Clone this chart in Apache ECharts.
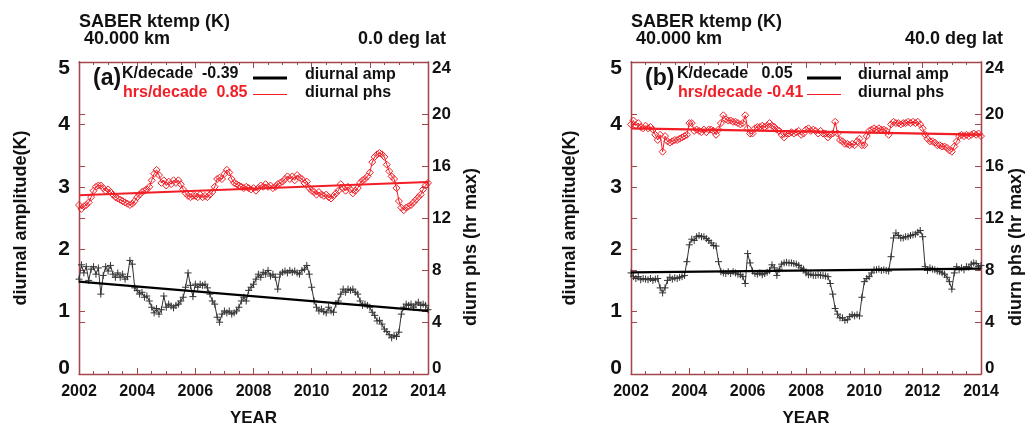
<!DOCTYPE html>
<html>
<head>
<meta charset="utf-8">
<title>SABER ktemp diurnal tide trends</title>
<script src="https://cdn.jsdelivr.net/npm/echarts@6/dist/echarts.min.js"></script>
<style>
  html, body { margin: 0; padding: 0; background: #fff; }
  #chart { width: 1028px; height: 425px; }
</style>
</head>
<body>
<div id="chart"></div>
<script>
// Monthly series, first value at START_YEAR, one value per month up to END_YEAR
const START_YEAR = 2002;
const END_YEAR = 2014;
const PER_YEAR = 12;

// axis tick labels
const yearTicks = [2002, 2004, 2006, 2008, 2010, 2012, 2014];
const ampTicks = [0, 1, 2, 3, 4, 5];
const phsTicks = [0, 4, 8, 12, 16, 20, 24];

// (a) 40 km, 0.0 deg lat : diurnal amplitude (K)
const ampA = [
  1.52, 1.75, 1.62, 1.72, 1.50, 1.68, 1.72, 1.60, 1.70, 1.28, 1.58, 1.72,
  1.65, 1.74, 1.60, 1.55, 1.62, 1.55, 1.60, 1.52, 1.56, 1.82, 1.76, 1.38,
  1.34, 1.28, 1.31, 1.23, 1.25, 1.17, 1.07, 0.98, 1.05, 0.96, 1.03, 1.25,
  1.07, 1.12, 1.09, 1.06, 1.10, 1.12, 1.17, 1.23, 1.39, 1.62, 1.42, 1.24,
  1.44, 1.39, 1.44, 1.42, 1.44, 1.38, 1.28, 1.17, 1.12, 0.91, 0.83, 0.96,
  1.01, 0.98, 1.01, 0.96, 0.98, 1.01, 1.07, 1.17, 1.23, 1.17, 1.34, 1.39,
  1.44, 1.52, 1.60, 1.55, 1.63, 1.60, 1.66, 1.57, 1.60, 1.55, 1.36, 1.60,
  1.63, 1.65, 1.62, 1.66, 1.63, 1.65, 1.62, 1.60, 1.66, 1.68, 1.74, 1.60,
  1.39, 1.17, 1.07, 1.01, 1.04, 1.00, 0.98, 1.07, 1.01, 0.99, 1.12, 1.17,
  1.28, 1.36, 1.31, 1.36, 1.34, 1.36, 1.31, 1.28, 1.17, 1.10, 1.12, 1.10,
  1.07, 0.99, 0.94, 0.85, 0.86, 0.80, 0.72, 0.68, 0.63, 0.58, 0.62, 0.60,
  0.67, 0.96, 1.07, 1.12, 1.10, 1.12, 1.07, 1.12, 1.15, 1.10, 1.12, 1.10,
  1.03
];
// (a) diurnal phase (hour of maximum)
const phsA = [
  13.0, 12.7, 12.9, 13.0, 13.2, 13.6, 14.1, 14.4, 14.5, 14.5, 14.3, 14.1,
  14.2, 14.0, 13.8, 13.6, 13.5, 13.4, 13.3, 13.2, 13.1, 13.0, 13.1, 13.3,
  13.6, 13.8, 14.0, 14.1, 14.2, 14.4, 14.9, 15.4, 15.7, 15.3, 14.7, 14.9,
  14.5, 14.8, 14.6, 14.9, 14.7, 14.9, 14.6, 14.2, 13.9, 13.7, 13.6, 13.7,
  13.7, 13.6, 13.8, 13.6, 13.7, 13.6, 13.8, 14.0, 14.4, 15.0, 15.1, 15.0,
  15.4, 15.7, 15.5, 15.0, 14.7, 14.6, 14.5, 14.4, 14.3, 14.4, 14.3, 14.2,
  14.3, 14.1, 14.3, 14.5, 14.4, 14.6, 14.4, 14.5, 14.3, 14.4, 14.6, 14.7,
  14.8, 15.0, 15.2, 15.0, 15.2, 14.9, 15.3, 15.1, 15.0, 14.7, 14.8, 14.3,
  14.1, 14.0, 13.8, 14.0, 13.8, 13.7, 13.8, 13.6, 13.5, 13.7, 13.9, 14.1,
  14.6, 14.3, 14.1, 14.4, 14.2, 13.9, 14.1, 14.3, 14.7, 14.9, 15.0, 15.2,
  15.5, 16.3, 16.7, 16.9, 17.0, 16.9, 16.7, 16.1, 15.6, 15.2, 15.0, 14.3,
  13.3, 12.8, 12.6, 12.8, 12.9, 13.0, 13.2, 13.4, 13.6, 13.8, 14.2, 14.5,
  14.7
];

// (b) 40 km, 40.0 deg lat : diurnal amplitude (K)
const ampB = [
  1.62, 1.56, 1.53, 1.56, 1.51, 1.53, 1.52, 1.51, 1.53, 1.50, 1.52, 1.53,
  1.38, 1.30, 1.38, 1.50, 1.55, 1.52, 1.54, 1.53, 1.55, 1.56, 1.58, 1.80,
  2.07, 2.16, 2.14, 2.20, 2.22, 2.20, 2.20, 2.17, 2.14, 2.10, 2.06, 2.05,
  1.80, 1.64, 1.62, 1.61, 1.64, 1.61, 1.64, 1.62, 1.60, 1.59, 1.56, 1.45,
  1.93, 1.78, 1.65, 1.61, 1.60, 1.62, 1.59, 1.61, 1.63, 1.66, 1.75, 1.70,
  1.58, 1.68, 1.76, 1.78, 1.79, 1.78, 1.78, 1.77, 1.76, 1.74, 1.70, 1.68,
  1.62, 1.59, 1.60, 1.58, 1.58, 1.59, 1.58, 1.58, 1.57, 1.56, 1.45, 1.28,
  1.05, 0.96, 0.90, 0.90, 0.86, 0.87, 0.92, 0.95, 0.93, 0.95, 0.93, 1.23,
  1.48, 1.53, 1.56, 1.62, 1.67, 1.67, 1.68, 1.66, 1.67, 1.66, 1.65, 1.88,
  2.18, 2.26, 2.22, 2.18, 2.18, 2.20, 2.20, 2.22, 2.23, 2.24, 2.27, 2.30,
  2.20, 1.72, 1.66, 1.70, 1.68, 1.67, 1.65, 1.64, 1.62, 1.60, 1.55, 1.48,
  1.36, 1.62, 1.72, 1.67, 1.70, 1.67, 1.72, 1.71, 1.76, 1.78, 1.77, 1.72,
  1.74
];
// (b) diurnal phase (hour of maximum)
const phsB = [
  19.2, 19.5, 19.1, 19.3, 19.0, 18.9, 19.1, 18.9, 19.0, 18.8, 18.4, 18.0,
  18.4, 17.1, 18.3, 17.9, 17.8, 17.9, 18.0, 18.0, 18.1, 18.2, 18.3, 18.4,
  19.3, 19.3, 18.7, 18.8, 18.7, 18.6, 18.8, 18.6, 18.8, 18.8, 18.7, 18.4,
  18.8, 19.3, 19.9, 19.6, 19.5, 19.5, 19.4, 19.4, 19.3, 19.2, 19.3, 19.9,
  18.9, 18.5, 18.5, 18.9, 19.0, 19.0, 19.1, 19.0, 19.1, 19.3, 19.1, 19.0,
  18.8, 18.7, 18.4, 18.2, 18.5, 18.5, 18.6, 18.5, 18.6, 18.7, 18.4, 18.5,
  18.8, 18.9, 18.7, 18.8, 18.7, 18.5, 18.7, 18.5, 18.5, 18.2, 18.4, 18.5,
  19.4, 18.5, 18.0, 17.9, 17.7, 17.7, 17.6, 17.7, 17.6, 17.9, 18.1, 17.6,
  17.6, 18.3, 18.7, 18.8, 18.9, 18.8, 18.9, 18.8, 18.8, 18.7, 18.4, 19.2,
  19.4, 19.3, 19.3, 19.2, 19.3, 19.3, 19.4, 19.3, 19.4, 19.3, 19.4, 19.2,
  18.9, 18.4, 18.1, 17.9, 17.9, 17.8, 17.6, 17.6, 17.5, 17.5, 17.4, 17.2,
  17.1, 17.5, 17.9, 18.3, 18.4, 18.3, 18.4, 18.3, 18.4, 18.5, 18.4, 18.5,
  18.3
];

// linear fits: [value at START_YEAR, change per decade]
const trendAmpA = [1.48, -0.39];
const trendPhsA = [13.75, 0.85];
const trendAmpB = [1.63, 0.05];
const trendPhsB = [18.90, -0.41];

// ---------------------------------------------------------------------------
const FONT = '"Liberation Sans", Arial, Helvetica, sans-serif';
const INK = '#111111';
const DATA_INK = '#333333';
const RED = '#f21d25';
const FRAME = '#a3474c';
const PLUS = 'path://M5,0L5,10M0,5L10,5';

const panels = [
  { tag: '(a)', lat: '0.0 deg lat', amp: ampA, phs: phsA, tAmp: trendAmpA, tPhs: trendPhsA,
    left: 79, width: 349, leftNameGap: 49, rightNameX: 471,
    tagX: 93, keyX: 122, lineX: 253, nameX: 305, latX: 446 },
  { tag: '(b)', lat: '40.0 deg lat', amp: ampB, phs: phsB, tAmp: trendAmpB, tPhs: trendPhsB,
    left: 631, width: 350, leftNameGap: 52, rightNameX: 1016,
    tagX: 645, keyX: 677, lineX: 807, nameX: 858, latX: 1003 }
];
const GRID_TOP = 62, GRID_H = 312;

function monthly(vals) {
  return vals.map((v, i) => [START_YEAR + i / PER_YEAR, v]);
}
function trendLine(fit) {
  const [v0, perDecade] = fit;
  return [[START_YEAR, v0], [END_YEAR, v0 + perDecade * (END_YEAR - START_YEAR) / 10]];
}
function fmt(v, width) {
  return v.toFixed(2).padStart(width, ' ');
}
// end labels of a vertical axis sit just inside the frame
function edgeLabels(ticks, size) {
  const base = { color: INK, fontFamily: FONT, fontWeight: 'bold', fontSize: size };
  return {
    formatter: v => v === ticks[ticks.length - 1] ? '{hi|' + v + '}'
                  : v === ticks[0] ? '{lo|' + v + '}' : '{n|' + v + '}',
    rich: {
      n: base,
      hi: Object.assign({ padding: [13, 0, 0, 0] }, base),
      lo: Object.assign({ padding: [0, 0, 12, 0] }, base)
    }
  };
}

const tickBase = {
  axisLine: { show: true, onZero: false, lineStyle: { color: FRAME, width: 1.3 } },
  axisTick: { show: true, inside: true, length: 6, lineStyle: { color: FRAME, width: 1 } },
  splitLine: { show: false }
};

const grid = [], xAxis = [], yAxis = [], series = [], graphic = [];

panels.forEach((p, k) => {
  grid.push({ left: p.left, top: GRID_TOP, width: p.width, height: GRID_H,
              containLabel: false, outerBoundsMode: 'none' });

  const xCommon = Object.assign({}, tickBase, {
    gridIndex: k, type: 'value',
    min: yearTicks[0], max: yearTicks[yearTicks.length - 1],
    interval: yearTicks[1] - yearTicks[0],
    minorTick: { show: true, splitNumber: 4, length: 3, lineStyle: { color: FRAME, width: 1 } },
    minorSplitLine: { show: false }
  });
  xAxis.push(Object.assign({}, xCommon, {
    position: 'bottom',
    axisLabel: { color: INK, fontFamily: FONT, fontWeight: 'bold', fontSize: 16, margin: 10,
                 formatter: v => String(v) },
    name: 'YEAR', nameLocation: 'middle', nameGap: 36,
    nameTextStyle: { color: INK, fontFamily: FONT, fontWeight: 'bold', fontSize: 17 }
  }));
  xAxis.push(Object.assign({}, xCommon, { position: 'top', axisLabel: { show: false } }));

  const ampCommon = Object.assign({}, tickBase, {
    gridIndex: k, type: 'value', min: ampTicks[0], max: ampTicks[ampTicks.length - 1],
    interval: ampTicks[1] - ampTicks[0], offset: 0
  });
  const phsCommon = Object.assign({}, tickBase, {
    gridIndex: k, type: 'value', min: phsTicks[0], max: phsTicks[phsTicks.length - 1],
    interval: phsTicks[1] - phsTicks[0], offset: 0
  });
  yAxis.push(Object.assign({}, ampCommon, {
    position: 'left',
    axisLabel: Object.assign({ margin: 9 }, edgeLabels(ampTicks, 21)),
    name: 'diurnal amplitude(K)', nameLocation: 'middle', nameGap: p.leftNameGap, nameRotate: 90,
    nameTextStyle: { color: INK, fontFamily: FONT, fontWeight: 'bold', fontSize: 18 }
  }));
  yAxis.push(Object.assign({}, ampCommon, { position: 'right', axisLabel: { show: false } }));
  yAxis.push(Object.assign({}, phsCommon, {
    position: 'right',
    axisLabel: Object.assign({ margin: 4 }, edgeLabels(phsTicks, 17))
  }));
  yAxis.push(Object.assign({}, phsCommon, { position: 'left', axisLabel: { show: false } }));

  const xi = 2 * k, yAmp = 4 * k, yPhs = 4 * k + 2;
  series.push({
    type: 'line', xAxisIndex: xi, yAxisIndex: yAmp, data: monthly(p.amp),
    symbol: PLUS, symbolSize: 7, showAllSymbol: true, z: 2,
    lineStyle: { color: DATA_INK, width: 1 },
    itemStyle: { color: DATA_INK, borderColor: DATA_INK, borderWidth: 1 }
  });
  series.push({
    type: 'line', xAxisIndex: xi, yAxisIndex: yPhs, data: monthly(p.phs),
    symbol: 'diamond', symbolSize: 7, showAllSymbol: true, z: 2,
    lineStyle: { color: RED, width: 1 },
    itemStyle: { color: 'rgba(0,0,0,0)', borderColor: RED, borderWidth: 1 }
  });
  series.push({
    type: 'line', xAxisIndex: xi, yAxisIndex: yAmp, data: trendLine(p.tAmp),
    symbol: 'none', z: 3, lineStyle: { color: '#000', width: 2.2 }
  });
  series.push({
    type: 'line', xAxisIndex: xi, yAxisIndex: yPhs, data: trendLine(p.tPhs),
    symbol: 'none', z: 3, lineStyle: { color: RED, width: 2.2 }
  });

  // headings
  const big = 'bold 18px ' + FONT;
  graphic.push({ type: 'text', x: p.left, y: 22, style: { text: 'SABER ktemp (K)', font: big, fill: INK, textVerticalAlign: 'middle' } });
  graphic.push({ type: 'text', x: p.left + 5, y: 39, style: { text: '40.000 km', font: big, fill: INK, textVerticalAlign: 'middle' } });
  graphic.push({ type: 'text', x: p.latX, y: 39, style: { text: p.lat, font: big, fill: INK, textAlign: 'right', textVerticalAlign: 'middle' } });

  // right axis title
  graphic.push({ type: 'text', x: p.rightNameX, y: 247, rotation: Math.PI / 2,
    style: { text: 'diurn phs (hr max)', font: 'bold 18px ' + FONT, fill: INK, textAlign: 'center', textVerticalAlign: 'middle' } });

  // key box
  const key = 'bold 16px ' + FONT;
  graphic.push({ type: 'text', x: p.tagX, y: 79, style: { text: p.tag, font: 'bold 23px ' + FONT, fill: INK, textVerticalAlign: 'middle' } });
  graphic.push({ type: 'text', x: p.keyX, y: 74, style: { text: 'K/decade ' + fmt(p.tAmp[1], 6), font: key, fill: INK, textVerticalAlign: 'middle' } });
  graphic.push({ type: 'text', x: p.keyX + 1, y: 93, style: { text: 'hrs/decade ' + fmt(p.tPhs[1], 5), font: key, fill: RED, textVerticalAlign: 'middle' } });
  graphic.push({ type: 'line', shape: { x1: p.lineX, y1: 78, x2: p.lineX + 34, y2: 78 }, style: { stroke: '#000', lineWidth: 3 } });
  graphic.push({ type: 'line', shape: { x1: p.lineX, y1: 94.5, x2: p.lineX + 34, y2: 94.5 }, style: { stroke: RED, lineWidth: 1 } });
  graphic.push({ type: 'text', x: p.nameX, y: 75, style: { text: 'diurnal amp', font: key, fill: INK, textVerticalAlign: 'middle' } });
  graphic.push({ type: 'text', x: p.nameX, y: 93, style: { text: 'diurnal phs', font: key, fill: INK, textVerticalAlign: 'middle' } });
});

const chart = echarts.init(document.getElementById('chart'), null, { renderer: 'canvas' });
chart.setOption({
  backgroundColor: '#ffffff',
  animation: false,
  textStyle: { fontFamily: FONT },
  grid, xAxis, yAxis, series, graphic
});
</script>
</body>
</html>
